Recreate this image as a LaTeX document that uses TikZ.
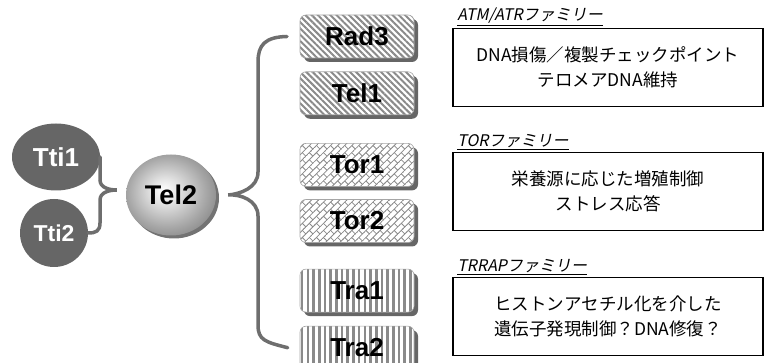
\documentclass[tikz,border=0pt]{standalone}
\usepackage{fontspec}
\setmainfont{Liberation Sans}
\newfontfamily\jpfont{Noto Sans CJK JP}
\newfontfamily\jpslant[FakeSlant=0.2]{Noto Sans CJK JP}
\usetikzlibrary{positioning,shapes.geometric,shadows,patterns.meta}

\definecolor{bracegray}{HTML}{6E6E6E}
\definecolor{circgray}{HTML}{666666}
\definecolor{stripegray}{HTML}{8A8A8A}

% shading of the central ball
\pgfdeclareradialshading{telball}{\pgfpoint{-4bp}{3bp}}{%
  color(0bp)=(white); color(7bp)=(white!90!black); color(22bp)=(black!35);
  color(32bp)=(black!50); color(40bp)=(black!58); color(50bp)=(black!66)}

% slanted brick hatching for the TOR boxes
\tikzdeclarepattern{
  name=slantbricks,
  type=uncolored,
  bottom left={(-.5pt,-.5pt)},
  top right={(10.5pt,10.5pt)},
  tile size={(10pt,10pt)},
  tile transformation={rotate=45},
  code={
    \draw[line width=.8pt] (-.5pt,0pt) -- (10.5pt,0pt) (-.5pt,5pt) -- (10.5pt,5pt)
      (2.5pt,0pt) -- (2.5pt,5pt) (7.5pt,5pt) -- (7.5pt,10pt);
  }
}

\tikzset{
  tti/.style    = {ellipse, fill=circgray, text=white, inner sep=0pt, font=\bfseries},
  hub/.style    = {ellipse, inner sep=0pt, minimum width=90pt, minimum height=81pt,
                   shading=telball, font=\bfseries\fontsize{27}{27}\selectfont,
                   drop shadow={shadow xshift=3pt, shadow yshift=-3pt, fill=black!55, opacity=1}},
  pik/.style    = {rounded corners=6pt, draw=black!35, line width=.6pt, minimum width=114pt,
                   minimum height=43pt, inner sep=0pt, font=\bfseries\fontsize{26}{26}\selectfont,
                   drop shadow={shadow xshift=4pt, shadow yshift=-4pt, fill=black!60, opacity=1},
                   preaction={fill=white}},
  atm/.style    = {pik, pattern={Lines[angle=-45,distance=4.4pt,line width=2pt]}, pattern color=stripegray},
  tor/.style    = {pik, pattern=slantbricks, pattern color=stripegray},
  trrap/.style  = {pik, pattern={Lines[angle=90,distance=5.7pt,line width=2.6pt]}, pattern color=stripegray},
  fam/.style    = {draw, line width=1.6pt, minimum width=310pt, minimum height=78pt,
                   align=center, font=\jpfont\fontsize{17.5}{25}\selectfont},
  famlabel/.style = {inner sep=0pt, font=\jpslant\fontsize{16}{16}\selectfont},
  brace/.style  = {draw=bracegray, line width=3.5pt, line cap=round},
}

\begin{document}
\begin{tikzpicture}[x=1pt, y=-1pt, node distance=12.5pt]
  \useasboundingbox (0,0) rectangle (766,363);

  % Tti1-Tti2 feeding into Tel2
  \node[tti, minimum width=88pt, minimum height=67pt, font=\bfseries\fontsize{26}{26}\selectfont] (tti1) at (56,157) {Tti1};
  \node[tti, minimum width=68pt, minimum height=68pt, font=\bfseries\fontsize{23}{23}\selectfont] (tti2) at (54,233) {Tti2};
  \node[hub] (tel2) at (171,195) {Tel2};

  % PIKK kinases, in pairs
  \node[atm] (rad3) at (357,36.5) {Rad3};
  \node[atm, below=of rad3] (tel1) {Tel1};
  \node[tor, below=28pt of tel1] (tor1) {Tor1};
  \node[tor, below=of tor1] (tor2) {Tor2};
  \node[trrap, below=25pt of tor2] (tra1) {Tra1};
  \node[trrap, below=of tra1] (tra2) {Tra2};

  % families and their roles
  \node[fam] (famatm) at (608,67.5) {DNA損傷／複製チェックポイント\\テロメアDNA維持};
  \node[fam] (famtor) at (608,191.5) {栄養源に応じた増殖制御\\ストレス応答};
  \node[fam] (famtra) at (608,316.5) {ヒストンアセチル化を介した\\遺伝子発現制御？DNA修復？};
  \node[famlabel, above right=2pt and 5pt of famatm.north west] (lblatm) {\underline{ATM/ATRファミリー}};
  \node[famlabel, above right=2pt and 5pt of famtor.north west] (lbltor) {\underline{TORファミリー}};
  \node[famlabel, above right=2pt and 5pt of famtra.north west] (lbltra) {\underline{TRRAPファミリー}};

  % braces
  \coordinate (tipin) at ([xshift=-9pt,yshift=5pt]tel2.west);
  \coordinate (tipout) at ([xshift=12pt]tel2.east);
  \draw[brace] (tti1.east) -- (100,180) .. controls (100,188) and (110,190) .. (tipin)
    .. controls (110,190) and (100,192) .. (100,200) -- (100,223)
    .. controls (100,231) and (96,233) .. (tti2.east);
  \draw[brace] ([xshift=-12pt]rad3.west) .. controls (265,37) and (258,45) .. (258,62) -- (258,172)
    .. controls (258,188) and (240,194) .. (tipout)
    .. controls (240,194) and (258,200) .. (258,216) -- (258,325)
    .. controls (258,340) and (265,342) .. ([xshift=-12pt]tra2.west);
\end{tikzpicture}
\end{document}
